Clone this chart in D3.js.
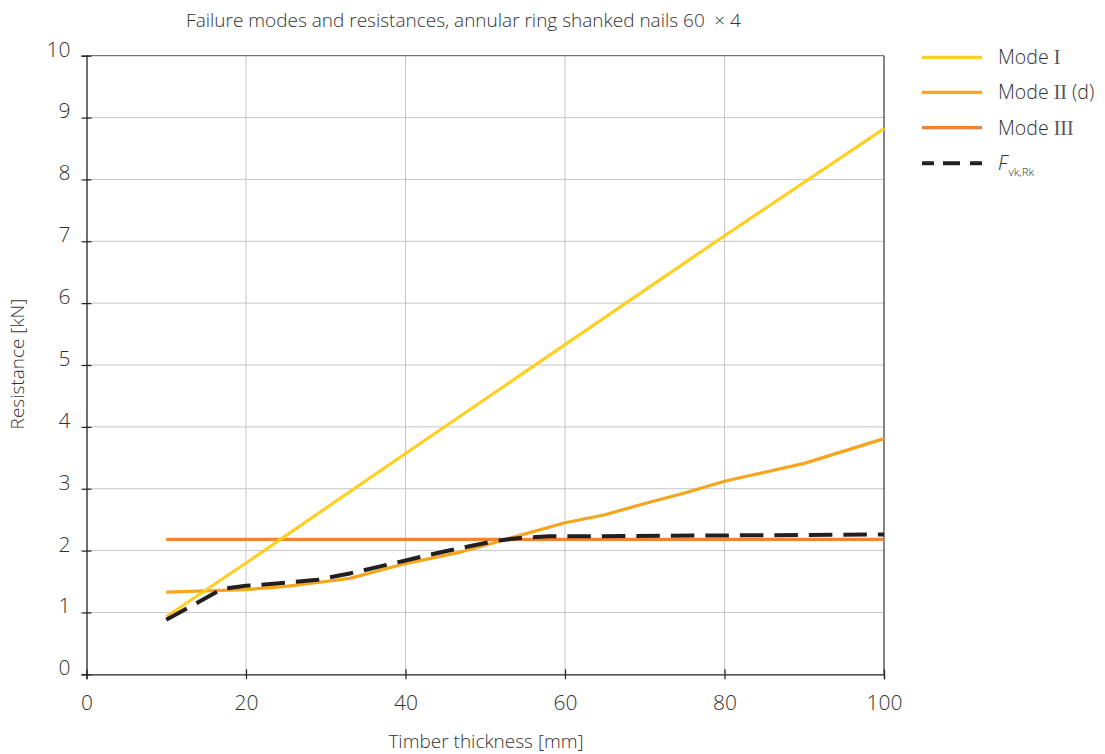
<!DOCTYPE html>
<html>
<head>
<meta charset="utf-8">
<script src="https://cdn.jsdelivr.net/npm/d3@7"></script>
<style>
  html, body { margin: 0; padding: 0; background: #fff; }
  svg { display: block; }
  text { font-family: "Open Sans", "Noto Sans", sans-serif; font-weight: 300; fill: #333; }
</style>
</head>
<body>
<svg id="chart" width="1105" height="754"></svg>
<script>
// ---- data ----
const title = "Failure modes and resistances, annular ring shanked nails 60\u2002\u00d7 4";
const xLabel = "Timber thickness [mm]";
const yLabel = "Resistance [kN]";
const xTicks = [0, 20, 40, 60, 80, 100];
const yTicks = [0, 1, 2, 3, 4, 5, 6, 7, 8, 9, 10];

const modeI_x = [10, 20, 40, 60, 80, 100];
const modeI_y = [0.93, 1.80, 3.57, 5.33, 7.09, 8.82];

const modeII_x = [10, 20, 25, 30, 33, 40, 47, 52, 60, 65, 70, 75, 80, 90, 100];
const modeII_y = [1.33, 1.37, 1.42, 1.50, 1.55, 1.79, 1.98, 2.16, 2.45, 2.58, 2.76, 2.93, 3.12, 3.41, 3.81];

const modeIII_x = [10, 100];
const modeIII_y = [2.18, 2.18];

const fvk_x = [10, 17, 20, 25, 29, 33, 40, 45, 48, 51, 54, 58, 60, 100];
const fvk_y = [0.88, 1.38, 1.43, 1.48, 1.53, 1.63, 1.84, 1.99, 2.07, 2.15, 2.20, 2.23, 2.23, 2.26];

const seriesNames = ["Mode I", "Mode II (d)", "Mode III", "F_vk,Rk"];

// ---- chart ----
const svg = d3.select("#chart");
const L = 86.5, R = 884, T = 55.7, B = 674.3;
const x = d3.scaleLinear().domain([0, 100]).range([L, R]);
const y = d3.scaleLinear().domain([0, 10]).range([B, T]);

const colors = { I: "#FFCF24", II: "#F8A51E", III: "#F28332", F: "#231F20" };

// grid
const grid = svg.append("g");
grid.selectAll("line.h").data(yTicks.filter(d => d > 0 && d < 10)).join("line")
  .attr("x1", L).attr("x2", R).attr("y1", d => y(d)).attr("y2", d => y(d))
  .attr("stroke", "#c6c6c6").attr("stroke-width", 1);
grid.selectAll("line.v").data(xTicks.filter(d => d > 0 && d < 100)).join("line")
  .attr("y1", T).attr("y2", B).attr("x1", d => x(d)).attr("x2", d => x(d))
  .attr("stroke", "#c6c6c6").attr("stroke-width", 1);
// top / right frame
svg.append("line").attr("x1", L).attr("x2", R).attr("y1", T).attr("y2", T)
  .attr("stroke", "#555").attr("stroke-width", 1);
svg.append("line").attr("x1", R).attr("x2", R).attr("y1", T).attr("y2", B)
  .attr("stroke", "#333").attr("stroke-width", 1.2);

// axes
const yAxis = d3.axisLeft(y).tickValues(yTicks).tickSize(5).tickFormat(d3.format("d"));
const gy = svg.append("g").attr("transform", `translate(${L},0)`).call(yAxis);
gy.select(".domain").attr("stroke", "#222").attr("stroke-width", 1.3);
gy.selectAll(".tick line").attr("x2", 5).attr("x1", -5).attr("stroke", "#222").attr("stroke-width", 1.2);
gy.selectAll(".tick text").attr("x", -16).attr("dy", "0.02em")
  .style("font-size", "21px").style("font-family", "'Open Sans', sans-serif").style("font-weight", 300).attr("fill", "#333");

const xAxis = d3.axisBottom(x).tickValues(xTicks).tickSize(5).tickFormat(d3.format("d"));
const gx = svg.append("g").attr("transform", `translate(0,${B})`).call(xAxis);
gx.select(".domain").attr("stroke", "#222").attr("stroke-width", 1.3);
gx.selectAll(".tick line").attr("y1", -5).attr("y2", 5).attr("stroke", "#222").attr("stroke-width", 1.2);
gx.selectAll(".tick text").attr("y", 36).attr("dy", 0)
  .style("font-size", "21px").style("font-family", "'Open Sans', sans-serif").style("font-weight", 300).attr("fill", "#333");
svg.selectAll(".domain").attr("fill", "none");

// lines
const line = d3.line().x(d => x(d[0])).y(d => y(d[1]));
const zip = (a, b) => a.map((v, i) => [v, b[i]]);

svg.append("path").datum(zip(modeIII_x, modeIII_y)).attr("d", line)
  .attr("fill", "none").attr("stroke", colors.III).attr("stroke-width", 3.2);
svg.append("path").datum(zip(modeII_x, modeII_y)).attr("d", line)
  .attr("fill", "none").attr("stroke", colors.II).attr("stroke-width", 3.2).attr("stroke-linejoin", "round");
svg.append("path").datum(zip(modeI_x, modeI_y)).attr("d", line)
  .attr("fill", "none").attr("stroke", colors.I).attr("stroke-width", 3.2);
svg.append("path").datum(zip(fvk_x, fvk_y)).attr("d", line)
  .attr("fill", "none").attr("stroke", colors.F).attr("stroke-width", 4)
  .attr("stroke-dasharray", "23.5 11").attr("stroke-linejoin", "round");

// title and axis labels
svg.append("text").attr("x", 463.5).attr("y", 27).attr("text-anchor", "middle")
  .style("font-size", "19px").text(title);
svg.append("text").attr("x", 486).attr("y", 748).attr("text-anchor", "middle")
  .style("font-size", "19px").text(xLabel);
svg.append("text").attr("transform", "translate(24,364) rotate(-90)").attr("text-anchor", "middle")
  .style("font-size", "19px").text(yLabel);

// legend
const legY = [57.3, 92.3, 127.7, 163.3];
const legColors = [colors.I, colors.II, colors.III, colors.F];
const leg = svg.append("g");
legY.forEach((ly, i) => {
  const ln = leg.append("line").attr("x1", 922).attr("x2", 982).attr("y1", ly).attr("y2", ly)
    .attr("stroke", legColors[i]).attr("stroke-width", i === 3 ? 4 : 3.2);
  if (i === 3) ln.attr("stroke-dasharray", "12 9 17 10 12");
});
[0, 1, 2].forEach(i => {
  const name = seriesNames[i];
  const t = leg.append("text").attr("x", 998).attr("y", legY[i] + 7).style("font-size", "19.5px");
  const m = name.match(/^(Mode )(I+)(.*)$/);
  t.append("tspan").text(m[1]);
  t.append("tspan").style("font-family", "'Liberation Serif', 'DejaVu Serif', serif").style("font-weight", 400)
    .style("font-size", "20px").style("fill", "#555").text(m[2]);
  if (m[3]) t.append("tspan").text(m[3]);
});
const ft = leg.append("text").attr("x", 998).attr("y", legY[3] + 7).style("font-size", "19.5px");
ft.append("tspan").style("font-style", "italic").text("F");
ft.append("tspan").attr("dy", 6).attr("dx", 1).style("font-size", "11.5px").text("vk,Rk");
</script>
</body>
</html>
